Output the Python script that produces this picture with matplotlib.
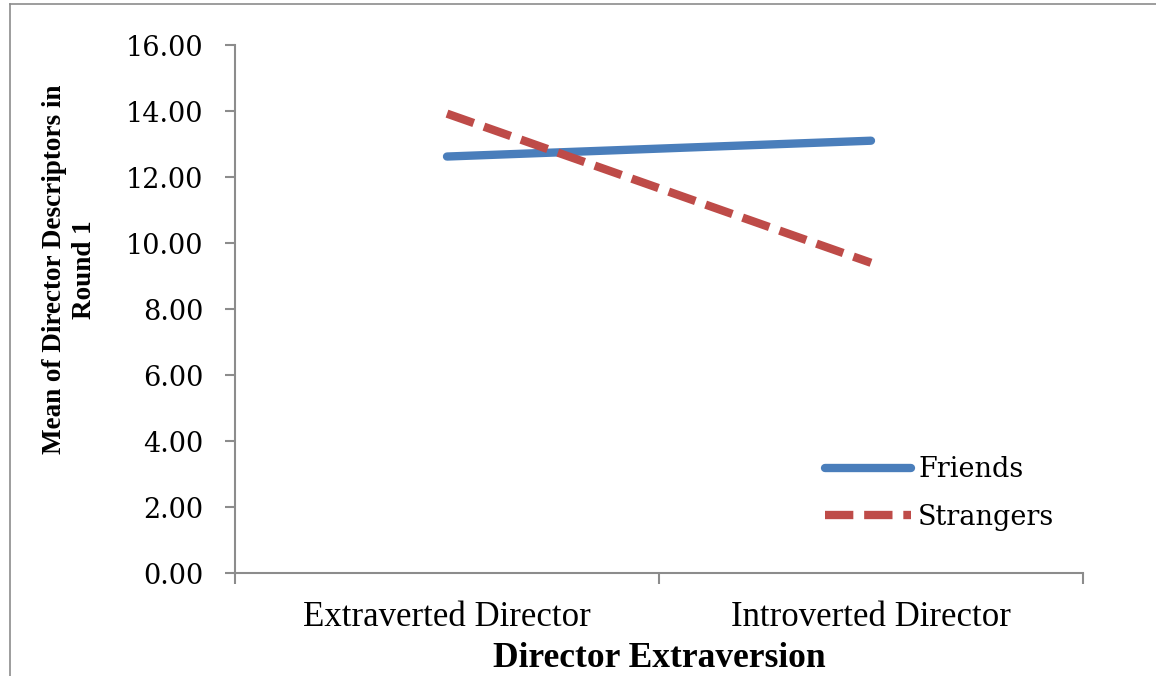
import matplotlib
matplotlib.use("Agg")
import matplotlib.pyplot as plt
from matplotlib.lines import Line2D
import numpy as np

plt.rcParams["font.family"] = "serif"
plt.rcParams["font.serif"] = ["DejaVu Serif"]

# data
categories = ["Extraverted Director", "Introverted Director"]
friends = [12.62, 13.10]
strangers = [13.92, 9.40]
y_ticks = [0, 2, 4, 6, 8, 10, 12, 14, 16]

blue = "#4a7ebb"
red = "#be4b48"
spine_col = "#8c8c8c"

W, H = 1156, 676
fig = plt.figure(figsize=(W / 100, H / 100), dpi=100)
ax = fig.add_axes([235 / W, 1 - 573 / H, (1083 - 235) / W, (573 - 45) / H])

x = np.arange(len(categories)) + 0.5
ax.plot(x, friends, color=blue, lw=6, solid_capstyle="round", label="Friends")
ax.plot(x, strangers, color=red, lw=6, dashes=(3.4, 1.3), dash_capstyle="butt",
        label="Strangers")

ax.set_xlim(0, len(categories))
ax.set_ylim(0, 16)

ax.set_yticks(y_ticks)
ax.set_yticklabels([f"{v:.2f}" for v in y_ticks], fontsize=19.5)
ax.tick_params(axis="y", direction="out", length=7, width=1.5, color=spine_col, pad=16)

ax.set_xticks(np.arange(len(categories) + 1))
ax.set_xticklabels([])
ax.tick_params(axis="x", direction="out", length=8, width=1.5, color=spine_col)
ax.set_xticks(x, minor=True)
ax.set_xticklabels(categories, minor=True, fontfamily="Liberation Serif", fontsize=25)
ax.tick_params(axis="x", which="minor", length=0, pad=20)

for s in ["top", "right"]:
    ax.spines[s].set_visible(False)
for s in ["left", "bottom"]:
    ax.spines[s].set_color(spine_col)
    ax.spines[s].set_linewidth(1.5)

ax.set_ylabel("Mean of Director Descriptors in\nRound 1", fontfamily="Liberation Serif",
              fontweight="bold", fontsize=19.5, linespacing=1.25)
ax.yaxis.set_label_coords(-0.163, 0.575)
ax.set_xlabel("Director Extraversion", fontfamily="Liberation Serif",
              fontweight="bold", fontsize=25.5, labelpad=6)

leg = ax.legend(loc="lower right", bbox_to_anchor=(0.995, 0.034), frameon=False,
                fontsize=19.5, handlelength=3.2, handletextpad=0.25, labelspacing=0.75)

# figure border (top and left only)
fig.add_artist(Line2D([9.5 / W, 9.5 / W], [0, 1 - 3.5 / H], color="#8c8c8c", lw=1.2,
                      transform=fig.transFigure))
fig.add_artist(Line2D([9.5 / W, 1], [1 - 3.5 / H, 1 - 3.5 / H], color="#8c8c8c", lw=1.2,
                      transform=fig.transFigure))

fig.savefig("out.png", dpi=100)
